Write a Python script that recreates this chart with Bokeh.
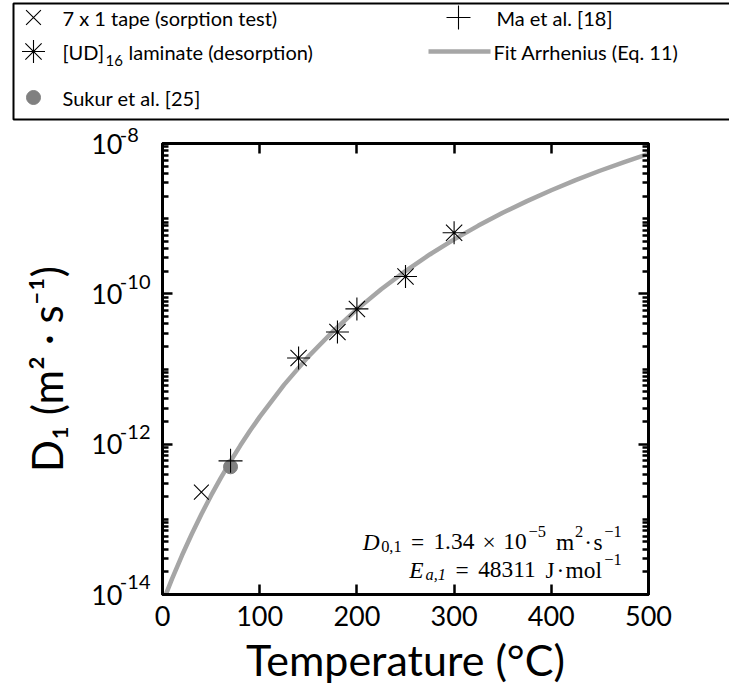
from bokeh.plotting import figure
from bokeh.models import (Range1d, FixedTicker, LinearAxis, LogAxis, Label,
                          CustomJSTickFormatter)
from bokeh.embed import file_html
from bokeh.resources import INLINE
from bokeh.core.properties import value

# ---------------- data ----------------
fit_T = [0, 10, 20, 30, 40, 50, 60, 70, 80, 90, 100, 125, 150, 175, 200, 225,
         250, 275, 300, 325, 350, 375, 400, 425, 450, 475, 500]
fit_D = [7.73e-15, 1.64e-14, 3.30e-14, 6.34e-14, 1.17e-13, 2.08e-13, 3.57e-13,
         5.92e-13, 9.57e-13, 1.51e-12, 2.31e-12, 6.15e-12, 1.46e-11, 3.13e-11,
         6.21e-11, 1.15e-10, 2.01e-10, 3.34e-10, 5.30e-10, 8.09e-10, 1.20e-9,
         1.71e-9, 2.39e-9, 3.25e-9, 4.34e-9, 5.67e-9, 7.30e-9]

tape_T = [40]
tape_D = [2.3e-13]

ud_T = [140, 180, 200, 250, 300]
ud_D = [1.4e-11, 3.1e-11, 6.3e-11, 1.7e-10, 6.5e-10]

ma_T = [70]
ma_D = [6.0e-13]

sukur_T = [70]
sukur_D = [5.0e-13]

x_ticks = [0, 100, 200, 300, 400, 500]
y_major = [1e-14, 1e-12, 1e-10, 1e-8]
y_exponents = ["-14", "-12", "-10", "-8"]

legend_labels = ["7 x 1 tape (sorption test)", "[UD]", "16", "laminate (desorption)",
                 "Sukur et al. [25]", "Ma et al. [18]", "Fit Arrhenius (Eq. 11)"]

# ---------------- styling ----------------
FONT = "Lato"
SERIF = "Liberation Serif"
CURVE = "#a6a6a6"
W = 729

y_minor = []
for e in range(-14, -8):
    for k in range(1, 10):
        v = k * 10.0 ** e
        if not any(abs(v - m) / m < 1e-9 for m in y_major):
            y_minor.append(v)

# ---------------- legend (own root, pixel coordinates) ----------------
LH = 121
leg = figure(width=W, height=LH, x_range=Range1d(0, W), y_range=Range1d(LH, 0),
             output_backend="svg", toolbar_location=None, min_border=0)
leg.axis.visible = False
leg.grid.visible = False
leg.outline_line_color = None
leg.background_fill_color = "white"
leg.border_fill_color = "white"

leg.quad(left=[13], right=[900], top=[3], bottom=[119], fill_color=None,
         line_color="black", line_width=2)

r1, r2, r3 = 17, 51, 97
leg.scatter([33], [r1], marker="x", size=21, line_color="black", line_width=1.1)
leg.scatter([33], [r2], marker="asterisk", size=23, line_color="black", line_width=1.1)
leg.scatter([33], [r3], marker="circle", size=14, fill_color="#808080", line_color="#808080")
leg.scatter([458], [r1], marker="cross", size=24, line_color="black", line_width=1.1)
leg.line([428, 490], [r2, r2], line_color=CURVE, line_width=4.5)

def ltext(x, y, t, size="20px"):
    leg.text([x], [y], text=[t], text_font=value(FONT), text_font_size=value(size),
             text_baseline="middle", text_align="left", text_color="black")

ltext(62, r1, legend_labels[0])
ltext(62, r2, legend_labels[1])
ltext(105, r2 + 9, legend_labels[2], "15px")
ltext(128, r2, legend_labels[3])
ltext(62, r3, legend_labels[4])
ltext(496, r1, legend_labels[5])
ltext(493, r2, legend_labels[6])

# ---------------- main figure ----------------
FL, FR, FT, FB = 162, 648, 143, 594
PH = 697 - LH
p = figure(width=W, height=PH, x_range=Range1d(0, 500), y_range=Range1d(1e-14, 1e-8),
           y_axis_type="log", output_backend="svg", toolbar_location=None,
           min_border_left=FL, min_border_right=W - FR, min_border_top=FT - LH,
           min_border_bottom=697 - FB)
p.grid.grid_line_color = None
p.outline_line_color = "black"
p.outline_line_width = 3
p.background_fill_color = "white"
p.border_fill_color = "white"

xt = FixedTicker(ticks=x_ticks, minor_ticks=[])
yt = FixedTicker(ticks=y_major, minor_ticks=y_minor)
blank = CustomJSTickFormatter(code="return ''")

def style_axis(ax):
    ax.axis_line_width = 3
    ax.axis_line_color = "black"
    ax.major_tick_in = 10
    ax.major_tick_out = 0
    ax.minor_tick_in = 6
    ax.minor_tick_out = 0
    ax.major_tick_line_width = 2.5
    ax.minor_tick_line_width = 2.5
    ax.major_tick_line_color = "black"
    ax.minor_tick_line_color = "black"

def bare_axis(ax):
    ax.axis_line_color = None
    ax.major_tick_line_color = None
    ax.minor_tick_line_color = None
    ax.major_tick_in = 0
    ax.major_tick_out = 0
    ax.minor_tick_in = 0
    ax.minor_tick_out = 0

xa = p.xaxis[0]
xa.ticker = xt
style_axis(xa)
xa.major_label_text_font = FONT
xa.major_label_text_font_size = "27px"
xa.major_label_text_color = "black"
xa.major_label_standoff = 11
xa.axis_label = "Temperature (°C)"
xa.axis_label_text_font = FONT
xa.axis_label_text_font_size = "43px"
xa.axis_label_text_font_style = "normal"
xa.axis_label_text_color = "black"
xa.axis_label_standoff = 5

# left: ticks only
ya = p.yaxis[0]
ya.ticker = yt
style_axis(ya)
ya.formatter = blank
ya.major_label_text_font_size = "1px"
ya.major_label_standoff = 0

# exponents (raised by an invisible second line)
def exp_text(s):
    pad = "\u2007" if len(s) < 3 else ""
    return s + pad + "\n\u00a0"

exp_ax = LogAxis(ticker=FixedTicker(ticks=y_major, minor_ticks=[]), formatter=blank,
                 major_label_overrides={v: exp_text(s) for v, s in zip(y_major, y_exponents)})
bare_axis(exp_ax)
exp_ax.major_label_text_font = FONT
exp_ax.major_label_text_font_size = "20px"
exp_ax.major_label_text_color = "black"
exp_ax.major_label_text_line_height = 1.1
exp_ax.major_label_standoff = 12
p.add_layout(exp_ax, "left")

# mantissa "10"
ten_ax = LogAxis(ticker=FixedTicker(ticks=y_major, minor_ticks=[]),
                 formatter=CustomJSTickFormatter(code="return '10'"))
bare_axis(ten_ax)
ten_ax.major_label_text_font = FONT
ten_ax.major_label_text_font_size = "27px"
ten_ax.major_label_text_color = "black"
ten_ax.major_label_standoff = -6
ten_ax.axis_label = "D₁ (m² · s⁻¹)"
ten_ax.axis_label_text_font = FONT
ten_ax.axis_label_text_font_size = "42px"
ten_ax.axis_label_text_font_style = "normal"
ten_ax.axis_label_text_color = "black"
ten_ax.axis_label_standoff = 16
p.add_layout(ten_ax, "left")

top_ax = LinearAxis(ticker=xt, formatter=blank, major_label_text_font_size="1px",
                    major_label_standoff=0)
style_axis(top_ax)
p.add_layout(top_ax, "above")
right_ax = LogAxis(ticker=yt, formatter=blank, major_label_text_font_size="1px",
                   major_label_standoff=0)
style_axis(right_ax)
p.add_layout(right_ax, "right")

# glyphs
p.line(fit_T, fit_D, line_color=CURVE, line_width=4.5)
p.scatter(tape_T, tape_D, marker="x", size=21, line_color="black", line_width=1.1)
p.scatter(ud_T, ud_D, marker="asterisk", size=23, line_color="black", line_width=1.1)
p.scatter(sukur_T, sukur_D, marker="circle", size=14, fill_color="#808080", line_color="#808080")
p.scatter(ma_T, ma_D, marker="cross", size=24, line_color="black", line_width=1.1)

# ---------------- annotation (TeX-like layout) ----------------
CMW = {"0": .5, "1": .5, "2": .5, "3": .5, "4": .5, "5": .5, "8": .5, ".": .278,
       ",": .278, "=": .778, "×": .778, "−": .778, "m": .833, "s": .394, "J": .514,
       "o": .5, "l": .278, "·": .278, "D": .828, "E": .738, "a": .529}

def slab(px, py, t, size, style="normal", align="left"):
    p.add_layout(Label(x=px - FL, y=FB - py, x_units="screen", y_units="screen",
                       text=t, text_font=SERIF, text_font_size=f"{size:.1f}px",
                       text_font_style=style, text_align=align,
                       text_baseline="alphabetic", text_color="black"))

def tex_line(pieces, x_right, base, f):
    items, x = [], 0.0
    for pc in pieces:
        if pc[0] is None:
            x += pc[1] * f
            continue
        t, kind, style = pc
        fs = f if kind == "main" else 0.7 * f
        w = sum(CMW[c] for c in t) * fs
        dy = 0.0 if kind == "main" else (0.22 * f if kind == "sub" else -0.42 * f)
        items.append((x + w / 2, t, fs, style, dy))
        x += w
    x0 = x_right - x
    for cx, t, fs, style, dy in items:
        slab(x0 + cx, base + dy, t, fs, style, "center")

F = 23.4
line1 = [("D", "main", "italic"), ("0,1", "sub", "normal"), (None, .278), ("=", "main", "normal"),
         (None, .278), ("1.34", "main", "normal"), (None, .222), ("×", "main", "normal"),
         (None, .222), ("10", "main", "normal"), ("−5", "sup", "normal"), (None, .333),
         ("m", "main", "normal"), ("2", "sup", "normal"), (None, .08), ("·", "main", "normal"),
         (None, .08), ("s", "main", "normal"), ("−1", "sup", "normal")]
line2 = [("E", "main", "italic"), ("a,1", "sub", "italic"), (None, .278), ("=", "main", "normal"),
         (None, .278), ("48311", "main", "normal"), (None, .333), ("J", "main", "normal"),
         (None, .05), ("·", "main", "normal"), (None, .05), ("mol", "main", "normal"),
         ("−1", "sup", "normal")]
tex_line(line1, 623, 541, F)
tex_line(line2, 623, 569, F)

open("out.html", "w").write(file_html([leg, p], INLINE))
